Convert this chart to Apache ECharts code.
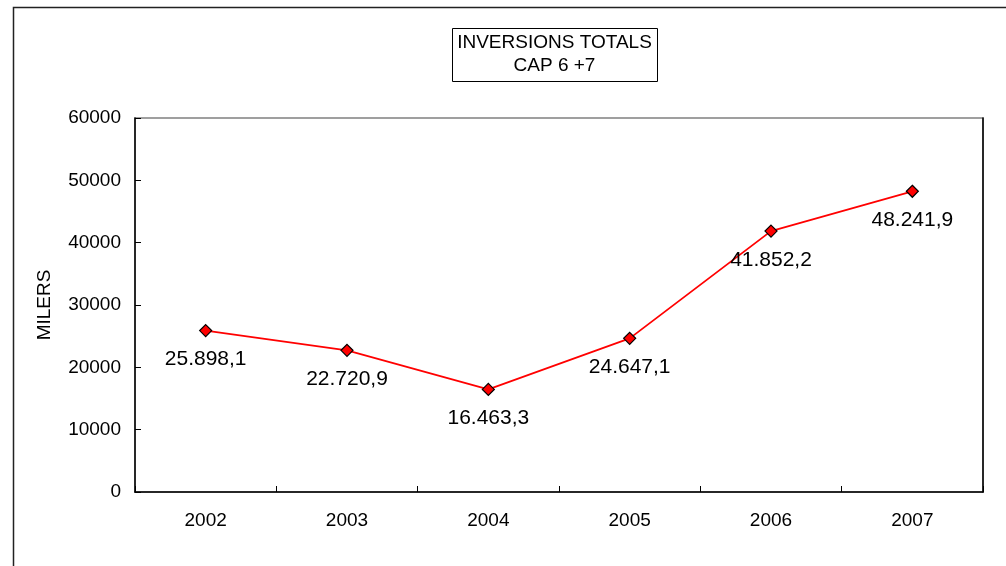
<!DOCTYPE html>
<html>
<head>
<meta charset="utf-8">
<script src="https://cdn.jsdelivr.net/npm/echarts@6/dist/echarts.min.js"></script>
<style>
  html, body { margin: 0; padding: 0; background: #fff; }
  #chart { width: 1006px; height: 566px; }
</style>
</head>
<body>
<div id="chart"></div>
<script>
const years = ['2002', '2003', '2004', '2005', '2006', '2007'];
const inversions = [25898.1, 22720.9, 16463.3, 24647.1, 41852.2, 48241.9];
const yTicks = { min: 0, max: 60000, interval: 10000 };
const titleLines = ['INVERSIONS TOTALS', 'CAP 6 +7'];
const yAxisName = 'MILERS';

function fmtCat(v) {
  const parts = v.toFixed(1).split('.');
  const intPart = parts[0].replace(/\B(?=(\d{3})+(?!\d))/g, '.');
  return intPart + ',' + parts[1];
}

const FONT = '"Liberation Sans", Arial, sans-serif';
const chart = echarts.init(document.getElementById('chart'));
chart.setOption({
  animation: false,
  backgroundColor: '#ffffff',
  textStyle: { fontFamily: FONT },
  graphic: [
    {
      type: 'rect', left: 11, top: 5, silent: true,
      shape: { width: 1100, height: 700 },
      style: { fill: 'none', stroke: '#222', lineWidth: 1.5 }
    },
    {
      type: 'rect', left: 452, top: 28, silent: true,
      shape: { width: 205, height: 53 },
      style: { fill: '#fff', stroke: '#000', lineWidth: 1 }
    },
    {
      type: 'text', x: 554.5, y: 54.5, silent: true,
      style: {
        text: titleLines.join('\n'),
        align: 'center', verticalAlign: 'middle',
        font: '19px ' + FONT, fill: '#000', lineHeight: 23
      }
    }
  ],
  grid: {
    left: 135, top: 118, right: 23, bottom: 74,
    show: true, borderColor: '#808080', borderWidth: 1.5,
    containLabel: false
  },
  xAxis: {
    type: 'category',
    data: years,
    boundaryGap: true,
    axisLine: { show: true, lineStyle: { color: '#000', width: 1.5 } },
    axisTick: { show: true, inside: true, length: 6, alignWithLabel: false, lineStyle: { color: '#000' } },
    axisLabel: { color: '#000', fontSize: 19, margin: 19, fontFamily: FONT },
    splitLine: { show: false }
  },
  yAxis: [
    {
      type: 'value',
      min: yTicks.min, max: yTicks.max, interval: yTicks.interval,
      name: yAxisName,
      nameLocation: 'middle',
      nameRotate: 90,
      nameGap: 81,
      nameTextStyle: { color: '#000', fontSize: 19, fontFamily: FONT },
      axisLine: { show: true, lineStyle: { color: '#000', width: 1.5 } },
      axisTick: { show: true, inside: true, length: 6, lineStyle: { color: '#000' } },
      axisLabel: { color: '#000', fontSize: 19, margin: 14, fontFamily: FONT, formatter: v => String(v) },
      splitLine: { show: false }
    },
    {
      type: 'value',
      position: 'right',
      min: yTicks.min, max: yTicks.max, interval: yTicks.interval,
      axisLine: { show: true, lineStyle: { color: '#000', width: 1.5 } },
      axisTick: { show: false },
      axisLabel: { show: false },
      splitLine: { show: false }
    }
  ],
  series: [{
    type: 'line',
    data: inversions,
    yAxisIndex: 0,
    symbol: 'diamond',
    symbolSize: 12,
    itemStyle: { color: '#ff0000', borderColor: '#000', borderWidth: 1.2 },
    lineStyle: { color: '#ff0000', width: 1.8 },
    label: {
      show: true,
      position: 'bottom',
      distance: 12,
      color: '#000',
      fontSize: 21,
      fontFamily: FONT,
      formatter: p => fmtCat(p.value)
    }
  }]
});
</script>
</body>
</html>
